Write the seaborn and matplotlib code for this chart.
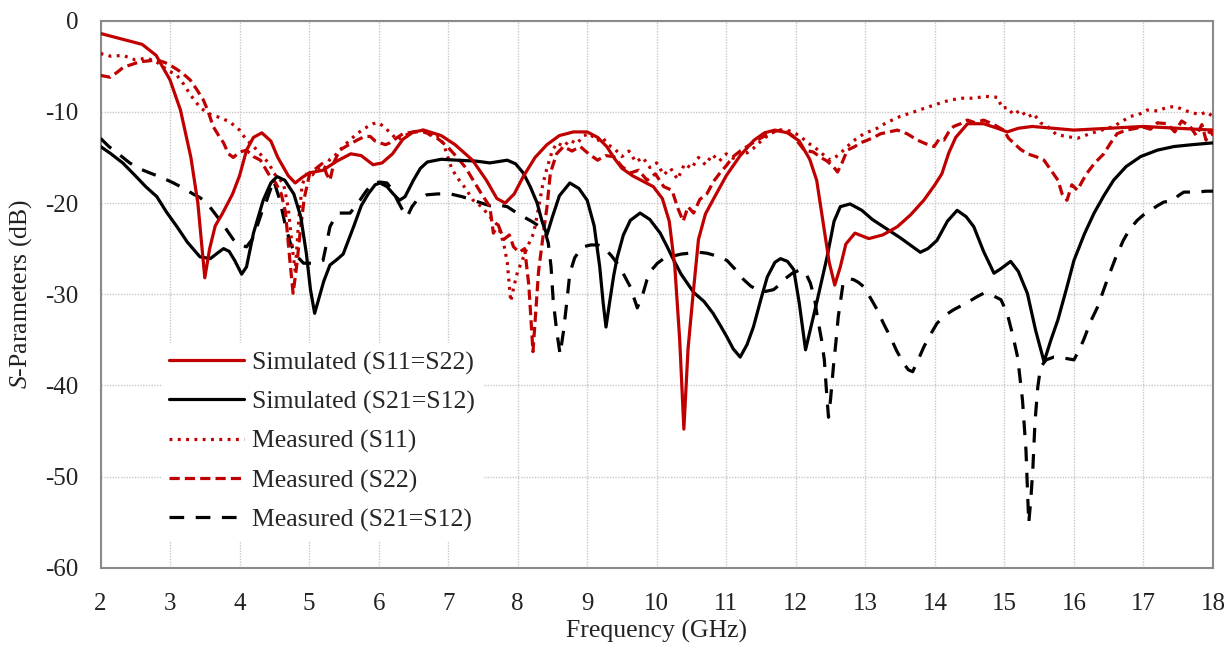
import numpy as np
import pandas as pd
import matplotlib
matplotlib.use("Agg")
import matplotlib.pyplot as plt
import seaborn as sns

# ---------------- data ----------------
sim_s11_f = [2.0, 2.3, 2.6, 2.8, 3.0, 3.15, 3.3, 3.4, 3.5, 3.57, 3.65, 3.75, 3.9, 4.0, 4.1, 4.2, 4.32,
             4.45, 4.55, 4.7, 4.8, 4.9, 5.0, 5.2, 5.4, 5.6, 5.75, 5.92, 6.05, 6.2, 6.35, 6.5, 6.65,
             6.9, 7.1, 7.35, 7.55, 7.7, 7.82, 7.95, 8.08, 8.25, 8.42, 8.6, 8.8, 9.0, 9.15, 9.28, 9.4,
             9.5, 9.65, 9.8, 9.95, 10.08, 10.18, 10.26, 10.33, 10.39, 10.45, 10.52, 10.6, 10.7, 10.82,
             11.0, 11.2, 11.4, 11.55, 11.7, 11.88, 12.05, 12.2, 12.3, 12.4, 12.48, 12.56, 12.64,
             12.72, 12.85, 13.05, 13.25, 13.46, 13.65, 13.84, 14.0, 14.1, 14.2, 14.3, 14.47, 14.7,
             14.9, 15.04, 15.2, 15.4, 15.7, 16.0, 16.5, 17.0, 17.5, 18.0]
sim_s11_db = [-1.4, -2.0, -2.6, -3.8, -6.5, -9.8, -15.0, -20.0, -28.2, -25.0, -22.5, -21.2, -19.0,
              -17.0, -14.2, -12.8, -12.3, -13.2, -15.0, -17.0, -17.8, -17.2, -16.7, -16.4, -15.4,
              -14.6, -14.8, -15.8, -15.6, -14.6, -13.0, -12.2, -12.0, -12.6, -13.6, -15.3, -17.5,
              -19.5, -20.0, -19.0, -17.1, -15.0, -13.6, -12.6, -12.2, -12.2, -12.8, -13.8, -15.2,
              -16.2, -17.0, -17.6, -18.2, -19.5, -22.0, -27.0, -35.0, -44.8, -36.0, -30.2, -24.0,
              -21.2, -19.5, -17.0, -14.8, -13.1, -12.3, -12.0, -12.3, -13.2, -15.2, -17.5, -22.5,
              -26.5, -29.0, -27.0, -24.5, -23.3, -23.9, -23.5, -22.6, -21.3, -19.7, -18.0, -16.8,
              -14.5, -12.8, -11.3, -11.3, -11.8, -12.2, -11.8, -11.6, -11.8, -12.0, -11.8, -11.6,
              -11.8, -12.0]

sim_s21_f = [2.0, 2.15, 2.32, 2.5, 2.65, 2.81, 2.95, 3.1, 3.25, 3.43, 3.58, 3.68, 3.77, 3.85, 3.93,
             4.03, 4.1, 4.2, 4.34, 4.45, 4.54, 4.65, 4.78, 4.88, 4.96, 5.02, 5.08, 5.14, 5.21, 5.3,
             5.4, 5.49, 5.57, 5.64, 5.75, 5.85, 5.95, 6.02, 6.12, 6.21, 6.3, 6.38, 6.5, 6.6, 6.7,
             6.9, 7.13, 7.4, 7.6, 7.85, 7.97, 8.08, 8.18, 8.28, 8.35, 8.42, 8.5, 8.6, 8.75, 8.88,
             9.0, 9.1, 9.18, 9.23, 9.27, 9.32, 9.38, 9.43, 9.52, 9.62, 9.76, 9.9, 10.05, 10.15,
             10.24, 10.35, 10.44, 10.53, 10.68, 10.81, 10.92, 11.01, 11.1, 11.2, 11.3, 11.39, 11.5,
             11.59, 11.7, 11.78, 11.88, 11.97, 12.05, 12.14, 12.22, 12.31, 12.45, 12.55, 12.64,
             12.78, 12.95, 13.1, 13.26, 13.5, 13.79, 13.9, 14.03, 14.18, 14.32, 14.45, 14.56, 14.7,
             14.85, 14.95, 15.09, 15.2, 15.33, 15.45, 15.57, 15.67, 15.77, 15.9, 16.0, 16.15, 16.29,
             16.43, 16.57, 16.75, 16.96, 17.2, 17.44, 17.7, 18.0]
sim_s21_db = [-13.8, -14.6, -15.6, -17.0, -18.2, -19.3, -21.0, -22.6, -24.3, -25.9, -26.1, -25.5,
              -25.0, -25.3, -26.3, -27.8, -27.0, -23.3, -19.7, -17.8, -17.1, -17.5, -19.0, -21.5,
              -25.5, -29.5, -32.1, -30.5, -28.6, -26.8, -26.2, -25.6, -24.0, -22.6, -20.3, -19.0,
              -18.0, -17.8, -18.2, -19.0, -19.7, -19.3, -17.5, -16.2, -15.5, -15.2, -15.3, -15.4,
              -15.6, -15.3, -15.7, -16.7, -18.2, -20.0, -22.0, -23.5, -21.5, -19.2, -17.8, -18.4,
              -19.7, -22.5, -27.0, -31.0, -33.6, -31.0, -28.0, -26.0, -23.5, -21.9, -21.1, -21.8,
              -23.3, -24.8, -26.2, -27.8, -28.8, -29.8, -30.8, -32.1, -33.5, -34.7, -36.0, -36.9,
              -35.5, -33.6, -30.5, -28.1, -26.5, -26.1, -26.4, -27.3, -31.0, -36.1, -33.5, -30.6,
              -25.9, -22.0, -20.4, -20.1, -20.8, -21.8, -22.6, -23.8, -25.4, -25.0, -24.1, -22.0,
              -20.8, -21.5, -22.6, -25.3, -27.7, -27.2, -26.4, -27.5, -29.9, -34.0, -37.4, -35.0,
              -32.8, -29.2, -26.3, -23.4, -21.1, -19.2, -17.5, -16.0, -14.9, -14.2, -13.8, -13.6,
              -13.4]

meas_s11_f = [2.0, 2.15, 2.32, 2.5, 2.67, 2.82, 2.96, 3.1, 3.19, 3.3, 3.43, 3.55, 3.67, 3.77, 3.86,
              4.0, 4.1, 4.18, 4.25, 4.34, 4.42, 4.49, 4.56, 4.63, 4.7, 4.76, 4.8, 4.85, 4.9, 4.97,
              5.05, 5.12, 5.2, 5.3, 5.4, 5.49, 5.6, 5.69, 5.8, 5.92, 6.0, 6.07, 6.17, 6.27, 6.36,
              6.45, 6.55, 6.64, 6.75, 6.88, 6.95, 7.05, 7.13, 7.25, 7.36, 7.48, 7.6, 7.72, 7.8, 7.85,
              7.9, 7.95, 8.0, 8.06, 8.14, 8.23, 8.3, 8.36, 8.42, 8.5, 8.57, 8.66, 8.75, 8.85, 8.95,
              9.04, 9.14, 9.22, 9.3, 9.4, 9.5, 9.6, 9.7, 9.8, 9.9, 10.0, 10.1, 10.2, 10.3, 10.4,
              10.5, 10.6, 10.7, 10.8, 10.9, 11.0, 11.1, 11.2, 11.3, 11.39, 11.5, 11.63, 11.75,
              11.88, 12.0, 12.07, 12.17, 12.26, 12.38, 12.5, 12.62, 12.74, 12.86, 12.98, 13.17,
              13.3, 13.5, 13.7, 13.89, 14.05, 14.22, 14.4, 14.56, 14.72, 14.9, 14.97, 15.04, 15.13,
              15.23, 15.33, 15.42, 15.52, 15.62, 15.75, 15.9, 16.05, 16.23, 16.4, 16.57, 16.7,
              16.81, 16.93, 17.05, 17.2, 17.34, 17.46, 17.58, 17.7, 17.82, 17.9, 18.0]
meas_s11_db = [-3.6, -3.9, -3.8, -4.3, -4.1, -4.6, -5.4, -6.0, -6.9, -8.2, -9.5, -10.2, -10.5,
               -10.8, -11.1, -12.0, -13.1, -13.6, -14.2, -15.0, -15.6, -16.7, -17.3, -17.8, -20.5,
               -25.0, -27.5, -22.0, -18.0, -16.7, -16.9, -16.2, -16.4, -15.2, -14.6, -13.8, -13.0,
               -12.4, -11.8, -11.3, -11.2, -11.6, -12.3, -13.1, -12.6, -12.4, -12.1, -12.0, -12.6,
               -12.7, -13.9, -16.2, -17.2, -18.4, -19.7, -20.4, -21.5, -22.5, -24.5, -26.5, -30.8,
               -29.0, -27.5, -26.4, -24.8, -23.3, -20.5, -18.0, -16.2, -14.2, -13.4, -13.8, -13.1,
               -13.5, -12.6, -12.4, -13.2, -12.8, -13.6, -14.1, -14.9, -14.3, -15.5, -15.0, -16.1,
               -15.6, -16.9, -16.2, -17.4, -15.7, -16.2, -15.0, -15.8, -14.7, -15.4, -14.6, -15.1,
               -14.4, -14.5, -14.0, -13.2, -12.4, -12.0, -12.0, -12.4, -12.7, -13.4, -13.8, -14.6,
               -15.3, -14.7, -13.8, -13.0, -12.4, -11.8, -11.2, -10.5, -10.0, -9.5, -9.1, -8.7,
               -8.5, -8.5, -8.3, -8.4, -9.6, -9.5, -10.3, -9.8, -10.6, -10.2, -11.2, -11.6, -12.5,
               -12.7, -12.9, -12.4, -12.0, -11.6, -11.0, -10.5, -10.3, -9.8, -9.9, -9.5, -9.4,
               -9.8, -10.1, -10.3, -10.0, -10.5]

meas_s22_f = [2.0, 2.14, 2.25, 2.33, 2.45, 2.57, 2.7, 2.81, 2.93, 3.05, 3.17, 3.29, 3.38, 3.48,
              3.55, 3.62, 3.7, 3.77, 3.84, 3.91, 4.0, 4.1, 4.2, 4.3, 4.37, 4.44, 4.52, 4.6, 4.66,
              4.72, 4.77, 4.82, 4.87, 4.93, 5.01, 5.1, 5.2, 5.25, 5.3, 5.36, 5.44, 5.55, 5.69, 5.8,
              5.88, 5.95, 6.02, 6.1, 6.16, 6.25, 6.35, 6.5, 6.64, 6.76, 6.88, 7.0, 7.13, 7.25, 7.36,
              7.48, 7.6, 7.65, 7.72, 7.8, 7.88, 7.94, 8.02, 8.1, 8.16, 8.2, 8.22, 8.25, 8.3, 8.37,
              8.42, 8.47, 8.56, 8.66, 8.78, 8.9, 9.02, 9.15, 9.26, 9.38, 9.5, 9.62, 9.74, 9.86,
              9.98, 10.1, 10.22, 10.3, 10.38, 10.45, 10.53, 10.62, 10.72, 10.82, 10.91, 11.0, 11.1,
              11.2, 11.3, 11.42, 11.54, 11.66, 11.78, 11.88, 11.97, 12.05, 12.12, 12.25, 12.36,
              12.45, 12.54, 12.6, 12.67, 12.74, 12.85, 12.93, 13.03, 13.12, 13.22, 13.34, 13.46,
              13.6, 13.75, 13.87, 13.99, 14.06, 14.13, 14.2, 14.27, 14.37, 14.47, 14.58, 14.7,
              14.85, 14.99, 15.06, 15.13, 15.23, 15.33, 15.45, 15.57, 15.67, 15.77, 15.83, 15.9,
              15.97, 16.05, 16.12, 16.19, 16.3, 16.43, 16.52, 16.62, 16.75, 16.9, 16.96, 17.1,
              17.2, 17.34, 17.45, 17.55, 17.67, 17.76, 17.84, 17.9, 17.96, 18.0]
meas_s22_db = [-6.0, -6.2, -5.6, -5.1, -4.8, -4.5, -4.4, -4.3, -4.6, -5.1, -5.7, -6.5, -7.5, -8.7,
               -10.0, -11.6, -12.6, -13.4, -14.6, -15.0, -14.4, -14.2, -14.9, -15.3, -16.2, -17.1,
               -17.8, -19.0, -21.0, -26.0, -29.9, -27.0, -23.3, -19.5, -16.7, -16.2, -15.6, -16.8,
               -17.5, -15.5, -14.2, -13.7, -13.1, -12.7, -12.7, -13.2, -13.4, -13.6, -13.4, -12.9,
               -12.4, -12.2, -12.2, -12.5, -13.1, -13.9, -15.0, -16.1, -17.5, -19.0, -20.4, -23.3,
               -22.4, -24.0, -23.5, -24.8, -25.4, -25.0, -29.0, -34.0, -36.3, -33.0, -27.5, -23.3,
               -20.5, -16.7, -14.6, -13.8, -14.3, -13.8, -14.6, -15.3, -14.8, -14.9, -16.0, -16.7,
               -16.4, -17.5, -16.8, -18.2, -18.6, -20.5, -22.0, -20.4, -21.1, -19.6, -19.0, -17.6,
               -16.7, -15.9, -14.9, -14.3, -13.8, -13.2, -12.7, -12.2, -12.0, -12.2, -12.7, -13.5,
               -14.2, -14.4, -15.0, -15.4, -16.0, -16.6, -15.5, -14.2, -13.8, -13.4, -13.1, -12.8,
               -12.4, -12.2, -12.0, -12.4, -13.1, -13.5, -13.8, -13.0, -13.1, -12.2, -11.6, -11.3,
               -10.9, -11.2, -10.9, -11.4, -12.0, -12.9, -13.4, -14.1, -14.6, -14.9, -15.3, -16.4,
               -17.5, -19.0, -19.7, -18.0, -18.6, -17.6, -16.7, -15.6, -14.6, -13.5, -12.4, -12.0,
               -11.8, -11.6, -11.9, -11.2, -11.3, -12.2, -11.0, -11.6, -12.6, -11.4, -13.1, -12.0,
               -12.6]

meas_s21_f = [2.0, 2.12, 2.24, 2.42, 2.55, 2.71, 2.88, 3.05, 3.2, 3.33, 3.43, 3.53, 3.62, 3.72,
              3.82, 3.91, 4.0, 4.1, 4.18, 4.25, 4.32, 4.39, 4.49, 4.58, 4.66, 4.73, 4.82, 4.92,
              5.05, 5.2, 5.25, 5.3, 5.37, 5.44, 5.59, 5.66, 5.73, 5.82, 5.92, 6.02, 6.12, 6.2, 6.27,
              6.34, 6.41, 6.48, 6.55, 6.69, 6.85, 7.03, 7.2, 7.36, 7.48, 7.6, 7.72, 7.85, 7.97,
              8.08, 8.2, 8.32, 8.4, 8.44, 8.48, 8.51, 8.56, 8.61, 8.66, 8.71, 8.75, 8.82, 8.9, 8.94,
              9.05, 9.15, 9.23, 9.35, 9.47, 9.55, 9.62, 9.72, 9.8, 9.86, 9.93, 10.01, 10.1, 10.19,
              10.35, 10.48, 10.6, 10.72, 10.86, 11.01, 11.12, 11.25, 11.35, 11.44, 11.56, 11.68,
              11.76, 11.83, 11.95, 12.07, 12.15, 12.21, 12.27, 12.31, 12.37, 12.41, 12.44, 12.47,
              12.5, 12.54, 12.58, 12.61, 12.68, 12.75, 12.83, 12.9, 12.98, 13.08, 13.17, 13.26,
              13.36, 13.45, 13.55, 13.62, 13.68, 13.76, 13.84, 13.93, 14.03, 14.15, 14.27, 14.37,
              14.47, 14.6, 14.7, 14.82, 14.95, 15.04, 15.12, 15.19, 15.26, 15.31, 15.35, 15.38,
              15.41, 15.44, 15.48, 15.52, 15.6, 15.71, 15.85, 16.0, 16.07, 16.14, 16.24, 16.34,
              16.48, 16.6, 16.71, 16.8, 16.91, 17.0, 17.1, 17.2, 17.29, 17.44, 17.5, 17.58, 17.7,
              17.78, 17.9, 18.0]
meas_s21_db = [-12.9, -13.8, -14.5, -15.6, -16.2, -16.7, -17.2, -17.8, -18.4, -19.0, -19.4, -20.0,
               -20.9, -21.9, -23.0, -24.0, -24.6, -24.8, -24.0, -22.6, -21.0, -19.7, -17.5, -19.7,
               -22.5, -24.4, -25.8, -26.6, -26.6, -26.3, -24.5, -22.6, -21.6, -21.1, -21.1, -20.4,
               -19.7, -18.7, -17.8, -17.7, -17.8, -18.6, -19.7, -20.7, -21.5, -20.4, -19.7, -19.1,
               -19.0, -19.0, -19.3, -19.7, -20.0, -20.3, -20.2, -20.4, -21.0, -21.5, -22.0, -22.6,
               -23.3, -24.4, -27.0, -30.6, -34.0, -36.6, -34.0, -30.6, -27.7, -26.0, -25.1, -24.8,
               -24.6, -24.6, -24.8, -25.8, -27.0, -28.2, -29.2, -31.5, -30.0, -28.4, -27.3, -26.6,
               -26.1, -25.9, -25.6, -25.5, -25.4, -25.5, -25.8, -26.3, -27.2, -28.4, -29.1, -29.5,
               -29.7, -29.5, -29.0, -28.4, -27.7, -27.3, -27.8, -28.8, -30.5, -32.5, -35.0, -37.2,
               -40.5, -43.5, -41.5, -38.0, -35.0, -32.5, -28.8, -28.3, -28.4, -28.7, -29.2, -30.5,
               -31.7, -33.2, -34.7, -36.2, -37.6, -38.3, -38.5, -37.2, -35.8, -34.5, -33.2, -32.3,
               -31.7, -31.3, -30.9, -30.3, -29.9, -30.1, -30.6, -32.1, -34.5, -36.9, -41.6, -47.1,
               -55.1, -52.5, -49.0, -44.0, -40.2, -38.0, -37.2, -36.9, -37.0, -37.2, -36.2, -35.0,
               -33.0, -31.4, -28.4, -26.0, -24.1, -22.9, -21.9, -21.3, -20.8, -20.3, -19.9, -19.7,
               -19.2, -18.8, -18.8, -18.8, -18.7, -18.7]

x_ticks = [2, 3, 4, 5, 6, 7, 8, 9, 10, 11, 12, 13, 14, 15, 16, 17, 18]
y_ticks = [0, -10, -20, -30, -40, -50, -60]

# ---------------- styling ----------------
sns.set_theme(style="white")
plt.rcParams["font.family"] = ["Liberation Serif", "DejaVu Serif"]
plt.rcParams["mathtext.fontset"] = "custom"
plt.rcParams["mathtext.rm"] = "Liberation Serif"
plt.rcParams["mathtext.it"] = "Liberation Serif:italic"
plt.rcParams["axes.unicode_minus"] = False

RED = "#C00000"
BLACK = "#000000"
LW = 2.3

fig = plt.figure(figsize=(12.31, 6.52), dpi=100)
ax = fig.add_axes([100.5 / 1231, 1 - 567.7 / 652, 1112.5 / 1231, 547.0 / 652])

series = [
    (sim_s11_f, sim_s11_db, RED, "-", "Simulated (S11=S22)"),
    (sim_s21_f, sim_s21_db, BLACK, "-", "Simulated (S21=S12)"),
    (meas_s11_f, meas_s11_db, RED, (0, (0.9, 1.7)), "Measured (S11)"),
    (meas_s22_f, meas_s22_db, RED, (0, (3.2, 1.6)), "Measured (S22)"),
    (meas_s21_f, meas_s21_db, BLACK, (0, (4.6, 3.6)), "Measured (S21=S12)"),
]
order = [4, 3, 2, 1, 0]
for i in order:
    f, d, c, ls, lab = series[i]
    sns.lineplot(x=np.array(f), y=np.array(d), ax=ax, color=c, linewidth=LW,
                 linestyle=ls, label=lab, sort=False, estimator=None, zorder=3 + (4 - i) * 0.1)

ax.set_xlim(2, 18)
ax.set_ylim(-60, 0)
ax.set_xticks(x_ticks)
ax.set_yticks(y_ticks)
ax.set_xticklabels([str(t) for t in x_ticks])
ax.set_yticklabels([str(t) for t in y_ticks])
ax.tick_params(axis="both", length=0, labelsize=18, colors="#222222")
ax.tick_params(axis="x", pad=18)
ax.tick_params(axis="y", pad=16)

ax.grid(True, which="major", color="#c8c8c8", linestyle=(0, (1, 1)), linewidth=1.0)
ax.set_axisbelow(True)
for s in ax.spines.values():
    s.set_color("#8a8a8a")
    s.set_linewidth(1.5)
    s.set_visible(True)

ax.set_xlabel("Frequency (GHz)", fontsize=18.5, color="#222222", labelpad=3.5)
ax.set_ylabel(r"$\it{S}$-Parameters (dB)", fontsize=18.5, color="#222222", labelpad=8)

h, l = ax.get_legend_handles_labels()
lab_order = [s[4] for s in series]
hl = dict(zip(l, h))
leg = ax.legend([hl[k] for k in lab_order], lab_order, loc="upper left",
                bbox_to_anchor=(0.055, 0.41), fontsize=18.5, frameon=True,
                handlelength=2.9, labelspacing=0.62, handletextpad=0.3,
                borderpad=0.3, borderaxespad=0.0, framealpha=1.0)
leg.get_frame().set_edgecolor("white")
leg.get_frame().set_facecolor("white")
leg.set_zorder(5)

fig.savefig("out.png", dpi=100)
